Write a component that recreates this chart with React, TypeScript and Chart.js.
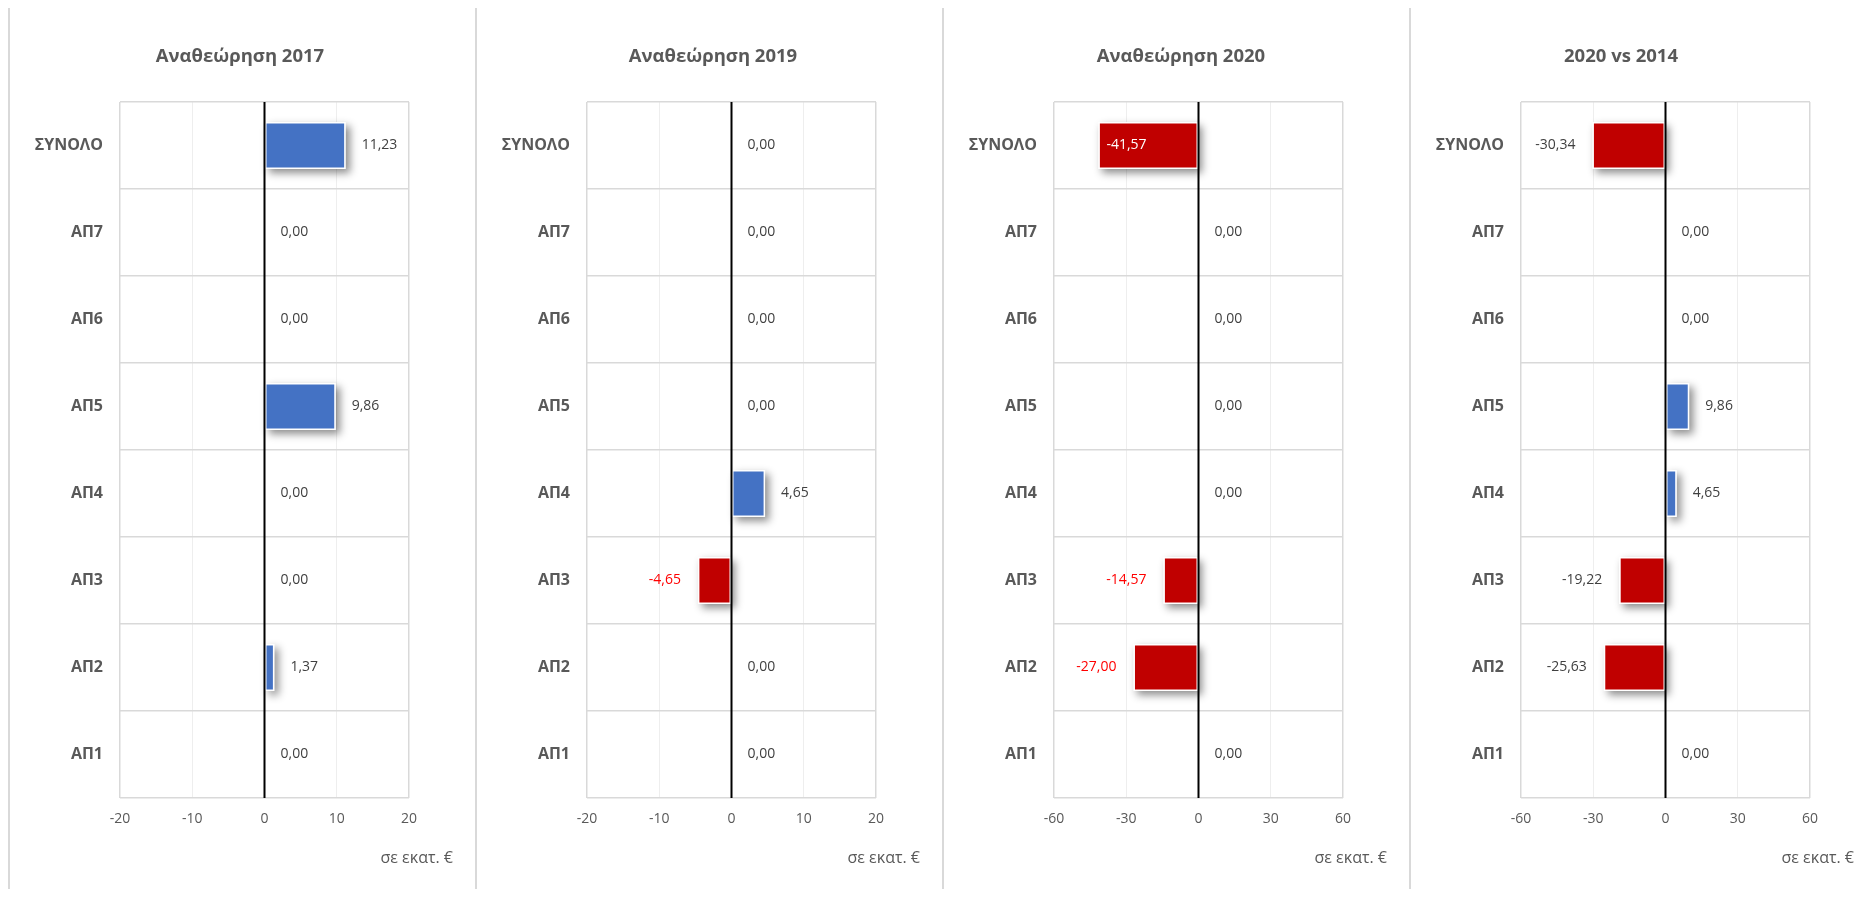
import React, { useEffect, useRef } from 'react';
import { Chart, registerables } from 'chart.js';

Chart.register(...registerables);

// ---------- data ----------
const categories = ['ΣΥΝΟΛΟ', 'ΑΠ7', 'ΑΠ6', 'ΑΠ5', 'ΑΠ4', 'ΑΠ3', 'ΑΠ2', 'ΑΠ1'];
const titles = ['Αναθεώρηση 2017', 'Αναθεώρηση 2019', 'Αναθεώρηση 2020', '2020 vs 2014'];
const values2017 = [11.23, 0, 0, 9.86, 0, 0, 1.37, 0];
const values2019 = [0, 0, 0, 0, 4.65, -4.65, 0, 0];
const values2020 = [-41.57, 0, 0, 0, 0, -14.57, -27.0, 0];
const values2020vs2014 = [-30.34, 0, 0, 9.86, 4.65, -19.22, -25.63, 0];
const ticksSmall = [-20, -10, 0, 10, 20];
const ticksLarge = [-60, -30, 0, 30, 60];
const axisUnit = 'σε εκατ. €';

// ---------- styles ----------
const FONT = '"Open Sans", "Noto Sans", sans-serif';
const BLUE = '#4472C4';
const RED = '#C00000';
const LABEL_GRAY = '#404040';
const TEXT_GRAY = '#595959';
const LABEL_RED = '#FF0000';
const BORDER = '#d9d9d9';

type PanelCfg = {
  title: string;
  values: number[];
  ticks: number[];
  titleX: number;
  width: number;
  redNegLabels: boolean;
  insideIdx: number[];
};

const panels: PanelCfg[] = [
  { title: titles[0], values: values2017, ticks: ticksSmall, titleX: 230, width: 467, redNegLabels: false, insideIdx: [] },
  { title: titles[1], values: values2019, ticks: ticksSmall, titleX: 236, width: 467, redNegLabels: true, insideIdx: [] },
  { title: titles[2], values: values2020, ticks: ticksLarge, titleX: 237, width: 467, redNegLabels: true, insideIdx: [0] },
  { title: titles[3], values: values2020vs2014, ticks: ticksLarge, titleX: 210, width: 461, redNegLabels: false, insideIdx: [] },
];

const PANEL_H = 883;
const CANVAS_H = PANEL_H - 2;
const PLOT_LEFT = 110;
const PLOT_RIGHT = 399;
const PLOT_TOP = 94;
const PLOT_BOTTOM = 790;

const fmt = (v: number) => v.toFixed(2).replace('.', ',');

function ChartPanel({ cfg }: { cfg: PanelCfg }) {
  const ref = useRef<HTMLCanvasElement | null>(null);
  const cw = cfg.width - 2;

  useEffect(() => {
    if (!ref.current) return;
    const min = cfg.ticks[0];
    const max = cfg.ticks[cfg.ticks.length - 1];
    const step = cfg.ticks[1] - cfg.ticks[0];

    const shadowPlugin = {
      id: 'barShadow',
      beforeDatasetsDraw(chart: any) {
        const ctx = chart.ctx;
        const meta = chart.getDatasetMeta(0);
        ctx.save();
        ctx.shadowColor = 'rgba(0,0,0,0.45)';
        ctx.shadowBlur = 8;
        ctx.shadowOffsetX = 4;
        ctx.shadowOffsetY = 4;
        ctx.fillStyle = '#ffffff';
        meta.data.forEach((el: any, i: number) => {
          if (Math.abs(cfg.values[i]) < 0.005) return;
          const left = Math.min(el.x, el.base);
          const w = Math.abs(el.x - el.base);
          ctx.fillRect(left, el.y - el.height / 2, w, el.height);
        });
        ctx.restore();
      },
    };

    const overlayPlugin = {
      id: 'overlay',
      afterDatasetsDraw(chart: any) {
        const ctx = chart.ctx;
        const area = chart.chartArea;
        const xs = chart.scales.x;
        const x0 = xs.getPixelForValue(0);
        // zero line
        ctx.save();
        ctx.strokeStyle = '#000000';
        ctx.lineWidth = 2;
        ctx.beginPath();
        ctx.moveTo(x0, area.top);
        ctx.lineTo(x0, area.bottom);
        ctx.stroke();
        // data labels
        const meta = chart.getDatasetMeta(0);
        ctx.font = `14px ${FONT}`;
        ctx.textBaseline = 'middle';
        meta.data.forEach((el: any, i: number) => {
          const v = cfg.values[i];
          const text = fmt(v);
          let color = LABEL_GRAY;
          if (v < 0 && cfg.redNegLabels) color = LABEL_RED;
          if (cfg.insideIdx.includes(i)) {
            ctx.fillStyle = '#ffffff';
            ctx.textAlign = 'left';
            ctx.fillText(text, el.x + 8, el.y);
            return;
          }
          ctx.fillStyle = color;
          if (v < 0) {
            ctx.textAlign = 'right';
            ctx.fillText(text, el.x - 17, el.y);
          } else {
            ctx.textAlign = 'left';
            ctx.fillText(text, el.x + 16, el.y);
          }
        });
        ctx.restore();
      },
      afterDraw(chart: any) {
        const ctx = chart.ctx;
        const area = chart.chartArea;
        ctx.save();
        ctx.fillStyle = TEXT_GRAY;
        ctx.textBaseline = 'alphabetic';
        ctx.font = `bold 18.5px ${FONT}`;
        ctx.textAlign = 'center';
        ctx.fillText(cfg.title, cfg.titleX, 54);
        ctx.font = `16px ${FONT}`;
        ctx.textAlign = 'right';
        ctx.fillText(axisUnit, area.right + 44, area.bottom + 65);
        ctx.restore();
      },
    };

    const chart = new Chart(ref.current, {
      type: 'bar',
      data: {
        labels: categories,
        datasets: [
          {
            data: cfg.values,
            backgroundColor: cfg.values.map((v) => (v < 0 ? RED : BLUE)),
            borderColor: '#ffffff',
            borderWidth: 1.5,
            borderSkipped: false,
            barPercentage: 0.54,
            categoryPercentage: 1,
          },
        ],
      },
      options: {
        indexAxis: 'y',
        animation: false,
        responsive: false,
        events: [],
        layout: { padding: { top: PLOT_TOP, right: cw - PLOT_RIGHT, left: 0, bottom: 0 } },
        plugins: {
          legend: { display: false },
          tooltip: { enabled: false },
          title: { display: false },
        },
        scales: {
          x: {
            min,
            max,
            ticks: {
              stepSize: step,
              color: TEXT_GRAY,
              font: { family: FONT, size: 14 },
              padding: 13,
              callback: (v: any) => String(v),
            },
            grid: {
              drawTicks: false,
              color: (c: any) => {
                const val = c.tick ? c.tick.value : null;
                if (val === 0) return 'rgba(0,0,0,0)';
                if (val === min || val === max) return BORDER;
                return '#eeeeee';
              },
              lineWidth: (c: any) => {
                const val = c.tick ? c.tick.value : null;
                if (val === min || val === max) return 1.5;
                return 1;
              },
            },
            border: { display: false },
            afterFit: (s: any) => {
              s.height = CANVAS_H - PLOT_BOTTOM;
            },
          },
          y: {
            ticks: {
              color: TEXT_GRAY,
              font: { family: FONT, size: 16, weight: 'bold' },
              padding: 17,
            },
            grid: { offset: true, color: BORDER, lineWidth: 1.5, drawTicks: false },
            border: { display: false },
            afterFit: (s: any) => {
              s.width = PLOT_LEFT;
            },
          },
        },
      } as any,
      plugins: [shadowPlugin, overlayPlugin],
    });
    return () => chart.destroy();
  }, [cfg]);

  return (
    <div
      style={{
        width: cfg.width,
        height: PANEL_H,
        boxSizing: 'border-box',
        borderLeft: `2px solid ${BORDER}`,
        borderTop: `2px solid ${BORDER}`,
        flex: '0 0 auto',
      }}
    >
      <canvas ref={ref} width={cw} height={CANVAS_H} style={{ display: 'block', width: cw, height: CANVAS_H }} />
    </div>
  );
}

export default function App() {
  useEffect(() => {
    document.body.style.overflow = 'hidden';
    document.documentElement.style.overflow = 'hidden';
  }, []);
  return (
    <div style={{ display: 'flex', marginTop: -2, width: 1862, height: PANEL_H, background: '#fff' }}>
      {panels.map((p, i) => (
        <ChartPanel key={i} cfg={p} />
      ))}
    </div>
  );
}
